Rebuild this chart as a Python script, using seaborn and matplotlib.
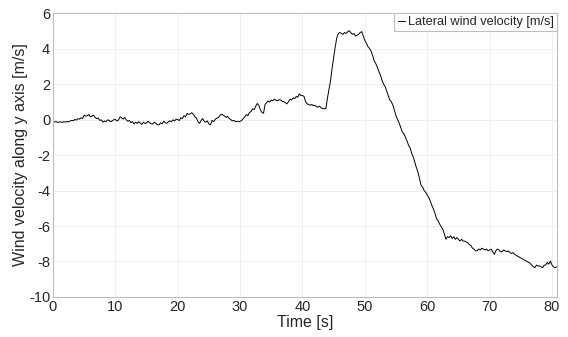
import numpy as np
import pandas as pd
import matplotlib
matplotlib.use("Agg")
import matplotlib.pyplot as plt
import seaborn as sns

dt = 0.25
velocity = [
    -0.10, -0.14, -0.12, -0.16, -0.15, -0.13, -0.17, -0.12, -0.15, -0.11, -0.14, -0.08, -0.05, -0.07, 0.00, -0.03, 0.05, 0.02, 0.10, 0.06,
    0.25, 0.18, 0.22, 0.28, 0.15, 0.20, 0.24, 0.12, 0.05, 0.08, -0.05, -0.02, -0.15, -0.08, -0.12, -0.02, -0.05, -0.12, -0.08, -0.01,
    0.00, -0.08, -0.03, 0.15, 0.10, 0.02, 0.12, -0.02, -0.10, -0.05, -0.18, -0.12, -0.25, -0.15, -0.22, -0.12, -0.20, -0.28, -0.15, -0.22,
    -0.20, -0.10, -0.18, -0.25, -0.25, -0.15, -0.22, -0.30, -0.30, -0.18, -0.25, -0.10, -0.18, -0.22, -0.12, -0.08, -0.12, -0.02, -0.08, 0.02,
    0.00, -0.06, 0.10, 0.05, 0.22, 0.15, 0.35, 0.28, 0.32, 0.38, 0.30, 0.15, 0.08, -0.12, -0.22, -0.05, 0.05, -0.10, -0.15, -0.08,
    -0.25, -0.30, -0.05, -0.12, 0.00, 0.08, 0.10, 0.22, 0.30, 0.25, 0.20, 0.12, 0.18, 0.05, 0.00, -0.08, -0.05, -0.12, -0.10, -0.13,
    -0.10, -0.05, 0.05, 0.15, 0.28, 0.22, 0.40, 0.45, 0.60, 0.55, 0.75, 0.90, 0.80, 0.55, 0.40, 0.35, 0.85, 0.95, 1.05, 0.98,
    1.10, 1.05, 1.15, 1.08, 1.05, 1.12, 1.10, 1.02, 1.00, 0.95, 0.88, 1.00, 1.15, 1.10, 1.22, 1.18, 1.30, 1.25, 1.45, 1.35,
    1.35, 1.30, 1.00, 0.88, 0.85, 0.80, 0.85, 0.78, 0.80, 0.72, 0.70, 0.75, 0.65, 0.62, 0.60, 0.62, 1.20, 1.70, 2.20, 2.90,
    3.50, 4.10, 4.60, 4.85, 4.90, 4.85, 4.80, 4.90, 4.85, 4.95, 5.00, 4.90, 4.80, 4.85, 4.70, 4.75, 4.80, 4.90, 4.95, 4.70,
    4.45, 4.30, 4.10, 4.00, 3.85, 3.60, 3.30, 3.15, 2.95, 2.70, 2.50, 2.20, 2.00, 1.85, 1.60, 1.35, 1.10, 1.00, 0.80, 0.50,
    0.20, 0.00, -0.20, -0.45, -0.70, -0.80, -1.00, -1.20, -1.45, -1.60, -1.90, -2.10, -2.40, -2.70, -2.95, -3.30, -3.70, -3.80, -4.00, -4.10,
    -4.25, -4.40, -4.60, -4.85, -5.05, -5.30, -5.60, -5.70, -5.90, -6.05, -6.20, -6.45, -6.75, -6.60, -6.65, -6.55, -6.70, -6.60, -6.75, -6.65,
    -6.75, -6.85, -6.75, -6.85, -6.85, -6.90, -6.95, -7.05, -7.10, -7.25, -7.30, -7.40, -7.40, -7.30, -7.35, -7.25, -7.30, -7.35, -7.30, -7.40,
    -7.35, -7.30, -7.45, -7.60, -7.40, -7.30, -7.35, -7.45, -7.45, -7.35, -7.40, -7.45, -7.40, -7.50, -7.55, -7.50, -7.60, -7.65, -7.70, -7.75,
    -7.80, -7.85, -7.90, -7.95, -8.00, -8.05, -8.10, -8.20, -8.30, -8.35, -8.20, -8.25, -8.25, -8.30, -8.35, -8.20, -8.20, -8.05, -8.15, -7.97,
    -8.20, -8.30, -8.35, -8.30,
]
time = np.arange(len(velocity)) * dt

xticks = [0, 10, 20, 30, 40, 50, 60, 70, 80]
yticks = [-10, -8, -6, -4, -2, 0, 2, 4, 6]

df = pd.DataFrame({"Time": time, "Velocity": velocity})

sns.set_theme(style="whitegrid")
plt.rcParams["font.family"] = ["Liberation Sans", "DejaVu Sans"]
plt.rcParams["axes.unicode_minus"] = False

fig = plt.figure(figsize=(5.68, 3.37), dpi=100)
ax = fig.add_axes([0.0933, 0.1187, 0.8873, 0.8427])

sns.lineplot(data=df, x="Time", y="Velocity", color="black", linewidth=0.7,
             label="Lateral wind velocity [m/s]", ax=ax)

ax.set_xlim(0, 80.8)
ax.set_ylim(-10, 6)
ax.set_xticks(xticks)
ax.set_yticks(yticks)
ax.set_xlabel("Time [s]", fontsize=11.5, color="#262626", labelpad=1)
ax.set_ylabel("Wind velocity along y axis [m/s]", fontsize=11.5, color="#262626", labelpad=1)
ax.tick_params(axis="both", labelsize=10.5, colors="#262626", direction="in",
               length=3, width=0.6, pad=2)
ax.grid(True, color="#ededed", linewidth=0.6)
for s in ax.spines.values():
    s.set_visible(True)
    s.set_color("#bdbdbd")
    s.set_linewidth(0.8)

leg = ax.legend(loc="upper right", borderaxespad=0, fontsize=9.2, handlelength=0.6,
                handletextpad=0.2, borderpad=0.25, fancybox=False, framealpha=1)
leg.get_frame().set_edgecolor("#bdbdbd")
leg.get_frame().set_linewidth(0.8)

fig.savefig("out.png", dpi=100)
